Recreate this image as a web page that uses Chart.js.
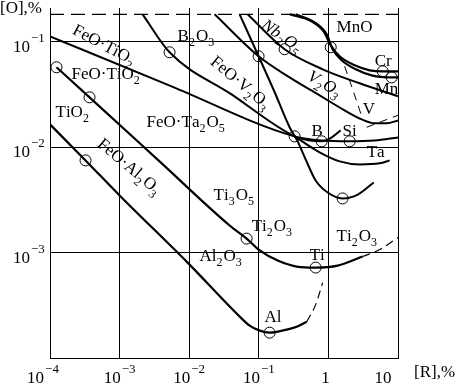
<!DOCTYPE html>
<html>
<head>
<meta charset="utf-8">
<title>Deoxidation of liquid iron</title>
<script src="https://cdn.jsdelivr.net/npm/chart.js@4.4.0/dist/chart.umd.min.js"></script>
<style>
	body { margin: 0; background: #fff; }
	canvas { display: block; }
</style>
</head>
<body>
<canvas id="chart" width="462" height="390"></canvas>
<script>
// axis ticks
var xTicks = [1e-4, 1e-3, 1e-2, 1e-1, 1, 10];
var xTickBase = ['10', '10', '10', '10', '1', '10'];
var xTickExp = ['\u22124', '\u22123', '\u22122', '\u22121', '', ''];
var yTicks = [1e-4, 1e-3, 1e-2, 1e-1];
var yTickBase = ['', '10', '10', '10'];
var yTickExp = ['', '\u22123', '\u22122', '\u22121'];

// curves, [R %, O %]
var feoSat = [[1e-4, 0.183], [10, 0.183]];
var lineSi = [[1e-4, 0.113], [5.58e-3, 0.0379], [0.327, 0.0127], [0.80, 0.0116], [2.02, 0.0114], [4.62, 0.0116], [10, 0.0124]];
var lineB = [[2.14e-3, 0.183], [5.22e-3, 0.0798], [0.0406, 0.0318], [0.327, 0.0127], [0.538, 0.0116], [0.80, 0.0114], [1.08, 0.0122], [1.50, 0.0145]];
var lineTa = [[0.327, 0.0127], [0.748, 0.00895], [1.45, 0.00735], [2.81, 0.00688], [5.46, 0.00704], [7.60, 0.00751]];
var lineDeep = [[0.053, 0.183], [0.0993, 0.0731], [0.169, 0.0333], [0.277, 0.0155], [0.361, 0.0114], [0.471, 0.00767], [0.656, 0.00484], [0.975, 0.00372], [1.60, 0.00327], [2.64, 0.00356], [4.48, 0.00464]];
var lineV = [[0.0232, 0.183], [0.0993, 0.0731], [0.277, 0.0461], [0.748, 0.0311], [1.71, 0.0224], [3.01, 0.0184], [4.62, 0.0169], [6.88, 0.0169], [10, 0.0180]];
var lineVdash = [[1.71, 0.0587], [2.23, 0.0355], [3.01, 0.0197]];
var lineVdash2 = [[3.55, 0.0155], [5.83, 0.0176], [10, 0.0201]];
var lineNb = [[0.069, 0.183], [0.235, 0.0853], [0.828, 0.055], [2.81, 0.0405], [10, 0.0305]];
var lineCr = [[0.277, 0.183], [0.574, 0.157], [0.855, 0.126], [1.08, 0.0930], [1.45, 0.0731], [2.39, 0.0601], [3.92, 0.0538], [6.03, 0.0526], [10, 0.0526]];
var lineMn = [[0.338, 0.183], [0.656, 0.151], [0.944, 0.118], [1.15, 0.0853], [1.55, 0.0670], [2.47, 0.055], [4.19, 0.0482], [8.11, 0.0461], [10, 0.0461]];
var lineTi = [[1.24e-4, 0.0575], [3.70e-4, 0.0298], [3.75e-3, 0.00735], [0.0381, 0.00181], [0.0668, 0.00136], [0.103, 0.00105], [0.187, 0.000841], [0.350, 0.000738], [0.656, 0.000722], [1.36, 0.000754], [3.11, 0.000918]];
var lineTiDash = [[3.11, 0.000918], [5.46, 0.00107], [10, 0.00139]];
var lineAl = [[1e-4, 0.0165], [3.24e-4, 0.00751], [1e-3, 0.00349], [9.8e-3, 0.000787], [0.0532, 0.000247], [0.0738, 0.000203], [0.103, 0.000182], [0.143, 0.000174], [0.251, 0.000186], [0.350, 0.000198], [0.488, 0.000221]];
var lineAlDash = [[0.488, 0.000221], [0.656, 0.000321], [0.828, 0.000520]];

// open circles
var marks = [[1.24e-4, 0.0575], [3.70e-4, 0.0298], [5.22e-3, 0.0798], [3.24e-4, 0.00751], [0.0993, 0.0731], [0.235, 0.0853],
	[1.08, 0.0891], [6.03, 0.0526], [8.11, 0.0461], [0.327, 0.0127], [0.80, 0.0114], [2.02, 0.0114], [1.60, 0.00327],
	[0.0668, 0.00136], [0.656, 0.000722], [0.143, 0.000174]];

// curve labels
var noteText = ['FeO·TiO_2', 'B_2O_3', 'FeO·TiO_2', 'TiO_2', 'FeO·Ta_2O_5', 'FeO·Al_2O_3', 'FeO·V_2O_3', 'Nb_2O_5', 'V_2O_3',
	'MnO', 'Cr', 'Mn', 'V', 'B', 'Si', 'Ta', 'Ti_3O_5', 'Ti_2O_3', 'Ti_2O_3', 'Al_2O_3', 'Ti', 'Al'];
var noteR = [2.04e-4, 6.81e-3, 2.04e-4, 1.20e-4, 2.44e-3, 4.66e-4, 0.0196, 0.106, 0.486,
	1.31, 4.62, 4.62, 3.11, 0.574, 1.60, 3.55, 0.0224, 0.0789, 1.31, 0.0141, 0.538, 0.121];
var noteO = [0.121, 0.1016, 0.0442, 0.0192, 0.0155, 0.0104, 0.0628, 0.138, 0.0442,
	0.124, 0.0587, 0.0318, 0.0206, 0.0127, 0.0127, 0.00802, 0.00313, 0.00159, 0.00128, 0.000841, 0.000859, 0.000221];

// styling for the labels
var noteAngle = [28, 0, 0, 0, 0, 40, 40, 35, 30, 0, 0, 0, 0, 0, 0, 0, 0, 0, 0, 0, 0, 0];
var noteItalic = [0, 0, 0, 0, 0, 0, 0, 1, 1, 0, 0, 0, 0, 0, 0, 0, 0, 0, 0, 0, 0, 0];
var xShift = [-7, 0, 0, 0, -3, -15];

var FONT = '"Liberation Serif", "Times New Roman", serif';

function curve(pts, width, dash) {
	return {
		data: pts.map(function(p) { return {x: p[0], y: p[1]}; }),
		showLine: true,
		borderColor: '#000',
		borderWidth: width,
		borderDash: dash || [],
		borderJoinStyle: 'round',
		pointRadius: 0,
		cubicInterpolationMode: 'monotone',
		fill: false
	};
}

function drawChem(ctx, str, x, y, italic) {
	var st = italic ? 'italic ' : '';
	var cx = x;
	for (var i = 0; i < str.length; i++) {
		var ch = str[i];
		if (ch === '_') {
			ch = str[++i];
			ctx.font = st + '12px ' + FONT;
			ctx.fillText(ch, cx, y + 5);
			cx += ctx.measureText(ch).width + 1;
		} else {
			ctx.font = st + '17px ' + FONT;
			ctx.fillText(ch, cx, y);
			cx += ctx.measureText(ch).width;
		}
	}
}

function drawPow(ctx, base, exp, x, y, center) {
	ctx.font = '17px ' + FONT;
	var wb = ctx.measureText(base).width;
	ctx.font = '13px ' + FONT;
	var we = exp ? ctx.measureText(exp).width + 1 : 0;
	var sx = center ? x - (wb + we) / 2 : x;
	ctx.font = '17px ' + FONT;
	ctx.fillText(base, sx, y);
	if (exp) {
		ctx.font = '13px ' + FONT;
		ctx.fillText(exp, sx + wb + 1, y - 10);
	}
}

var notes = {
	id: 'notes',
	afterDatasetsDraw: function(chart) {
		var ctx = chart.ctx, xs = chart.scales.x, ys = chart.scales.y;
		ctx.save();
		ctx.fillStyle = '#000';
		ctx.textBaseline = 'alphabetic';

		// tick labels
		xTicks.forEach(function(v, i) {
			drawPow(ctx, xTickBase[i], xTickExp[i], xs.getPixelForValue(v) + xShift[i], 383, true);
		});
		yTicks.forEach(function(v, i) {
			if (yTickBase[i]) drawPow(ctx, yTickBase[i], yTickExp[i], 13, ys.getPixelForValue(v) + 10, false);
		});

		// axis titles
		ctx.font = '17px ' + FONT;
		ctx.fillText('[O],%', 0, 13);
		ctx.fillText('[R],%', 414, 377);

		// curve labels
		noteText.forEach(function(t, i) {
			var px = xs.getPixelForValue(noteR[i]);
			var py = ys.getPixelForValue(noteO[i]);
			ctx.save();
			ctx.translate(px, py);
			ctx.rotate(noteAngle[i] * Math.PI / 180);
			drawChem(ctx, t, 0, 0, noteItalic[i]);
			ctx.restore();
		});
		ctx.restore();
	}
};

var circles = {
	data: marks.map(function(p) { return {x: p[0], y: p[1]}; }),
	showLine: false,
	pointRadius: 5.5,
	pointBorderWidth: 1,
	pointBorderColor: '#000',
	pointBackgroundColor: 'rgba(0,0,0,0)'
};

var chart = new Chart(document.getElementById('chart'), {
	type: 'scatter',
	data: {
		datasets: [
			circles,
			curve(feoSat, 1.3, [14, 7]),
			curve(lineSi, 2),
			curve(lineB, 2),
			curve(lineTa, 2),
			curve(lineDeep, 2),
			curve(lineV, 2),
			curve(lineVdash, 1, [8, 6]),
			curve(lineVdash2, 1, [8, 6]),
			curve(lineNb, 2),
			curve(lineCr, 2.2),
			curve(lineMn, 2.2),
			curve(lineTi, 2.2),
			curve(lineTiDash, 1.2, [8, 5]),
			curve(lineAl, 2.2),
			curve(lineAlDash, 1.2, [8, 5])
		]
	},
	options: {
		responsive: false,
		animation: false,
		events: [],
		layout: { padding: { left: 50, right: 64, top: 8, bottom: 32 } },
		plugins: { legend: { display: false }, tooltip: { enabled: false } },
		scales: {
			x: {
				type: 'logarithmic', min: 1e-4, max: 10,
				afterBuildTicks: function(s) { s.ticks = xTicks.map(function(v) { return {value: v}; }); },
				ticks: { display: false },
				grid: { color: '#000', lineWidth: 1, drawTicks: false },
				border: { color: '#000', width: 1 }
			},
			y: {
				type: 'logarithmic', min: 1e-4, max: 0.21,
				afterBuildTicks: function(s) { s.ticks = yTicks.map(function(v) { return {value: v}; }); },
				ticks: { display: false },
				grid: { color: '#000', lineWidth: 1, drawTicks: false },
				border: { color: '#000', width: 1 }
			}
		}
	},
	plugins: [notes]
});
</script>
</body>
</html>
